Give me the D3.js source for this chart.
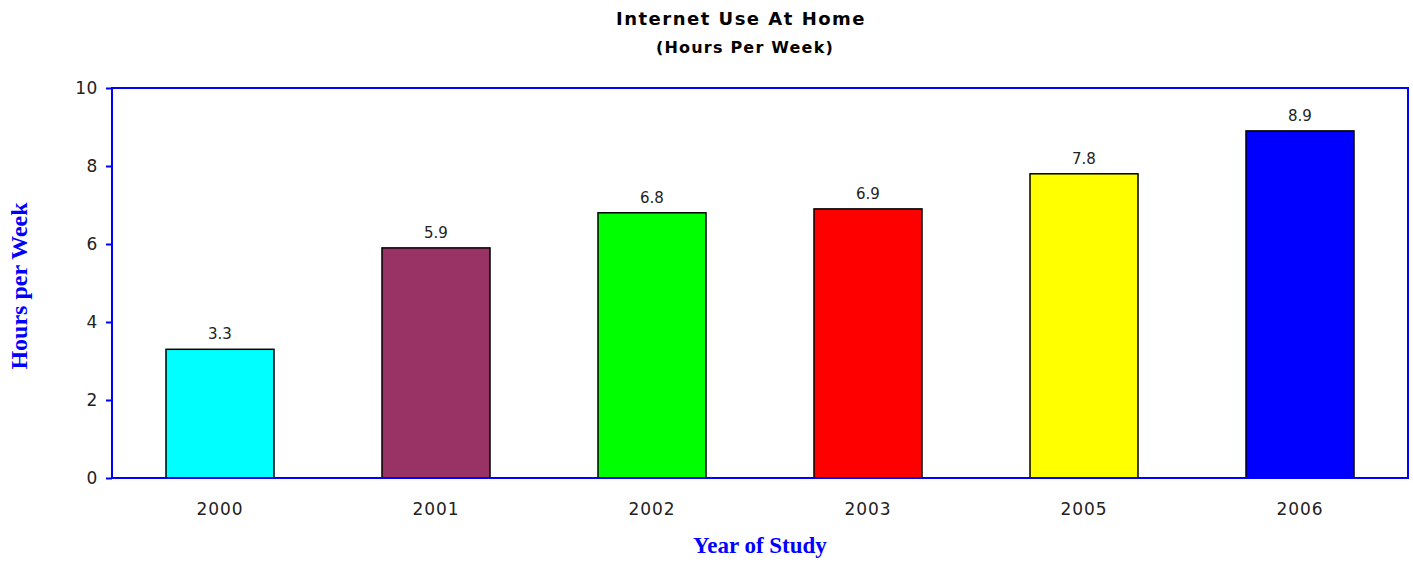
<!DOCTYPE html>
<html><head><meta charset="utf-8">
<script src="https://cdn.jsdelivr.net/npm/d3@7"></script>
<style>body{margin:0;background:#fff}svg{display:block}</style>
</head><body>
<svg id="c" width="1413" height="562"></svg>
<script>
const categories = ["2000","2001","2002","2003","2005","2006"];
const values = [3.3, 5.9, 6.8, 6.9, 7.8, 8.9];
const colors = ["#00FFFF","#993366","#00FF00","#FF0000","#FFFF00","#0000FF"];
const yTicks = [0,2,4,6,8,10];
const title = "Internet Use At Home";
const subtitle = "(Hours Per Week)";
const xTitle = "Year of Study";
const yTitle = "Hours per Week";

const svg = d3.select("#c");
const L = 112, R = 1408, T = 88, B = 478;
const x = d3.scaleBand().domain(categories).range([L, R]).paddingInner(0.5).paddingOuter(0.25);
const y = d3.scaleLinear().domain([0, 10]).range([B, T]);

// bars
svg.append("g").selectAll("rect").data(values).join("rect")
  .attr("x", (d,i) => x(categories[i]))
  .attr("y", d => y(d))
  .attr("width", x.bandwidth())
  .attr("height", d => y(0) - y(d))
  .attr("fill", (d,i) => colors[i])
  .attr("stroke", "#000").attr("stroke-width", 1.5);

// value labels
svg.append("g").selectAll("text").data(values).join("text")
  .attr("x", (d,i) => x(categories[i]) + x.bandwidth()/2)
  .attr("y", d => y(d) - 10)
  .attr("text-anchor", "middle")
  .attr("font-family", "DejaVu Sans, Verdana, sans-serif")
  .attr("font-size", 15).attr("fill", "#222")
  .text(d => d.toFixed(1));

// plot border
svg.append("rect").attr("x", L).attr("y", T).attr("width", R-L).attr("height", B-T)
  .attr("fill", "none").attr("stroke", "#0000FF").attr("stroke-width", 2);

// y axis
const ya = svg.append("g").attr("transform", `translate(${L},0)`)
  .call(d3.axisLeft(y).tickValues(yTicks).tickSize(6).tickPadding(8).tickFormat(d3.format("d")));
ya.select(".domain").remove();
ya.selectAll(".tick line").attr("stroke", "#0000FF").attr("stroke-width", 2);
ya.selectAll(".tick text").attr("font-family", "DejaVu Sans, Verdana, sans-serif")
  .attr("font-size", 17).attr("fill", "#222").attr("letter-spacing", 0.6);

// x axis
const xa = svg.append("g").attr("transform", `translate(0,${B})`)
  .call(d3.axisBottom(x).tickSize(0).tickPadding(25));
xa.select(".domain").remove();
xa.selectAll(".tick text").attr("font-family", "DejaVu Sans, Verdana, sans-serif")
  .attr("font-size", 17).attr("fill", "#222").attr("letter-spacing", 1);

// titles
svg.append("text").attr("x", 741).attr("y", 25).attr("text-anchor", "middle")
  .attr("font-family", "DejaVu Sans, Verdana, sans-serif").attr("font-weight", "bold")
  .attr("font-size", 18).attr("letter-spacing", 1.5).attr("fill", "#000").text(title);
svg.append("text").attr("x", 745).attr("y", 53).attr("text-anchor", "middle")
  .attr("font-family", "DejaVu Sans, Verdana, sans-serif").attr("font-weight", "bold")
  .attr("font-size", 16).attr("letter-spacing", 1.2).attr("fill", "#000").text(subtitle);

svg.append("text").attr("x", 760).attr("y", 553).attr("text-anchor", "middle")
  .attr("font-family", "Liberation Serif, Times New Roman, serif").attr("font-weight", "bold")
  .attr("font-size", 23).attr("fill", "#0000FF").text(xTitle);
svg.append("text").attr("transform", "translate(27,286) rotate(-90)").attr("text-anchor", "middle")
  .attr("font-family", "Liberation Serif, Times New Roman, serif").attr("font-weight", "bold")
  .attr("font-size", 24).attr("fill", "#0000FF").text(yTitle);
</script>
</body></html>
